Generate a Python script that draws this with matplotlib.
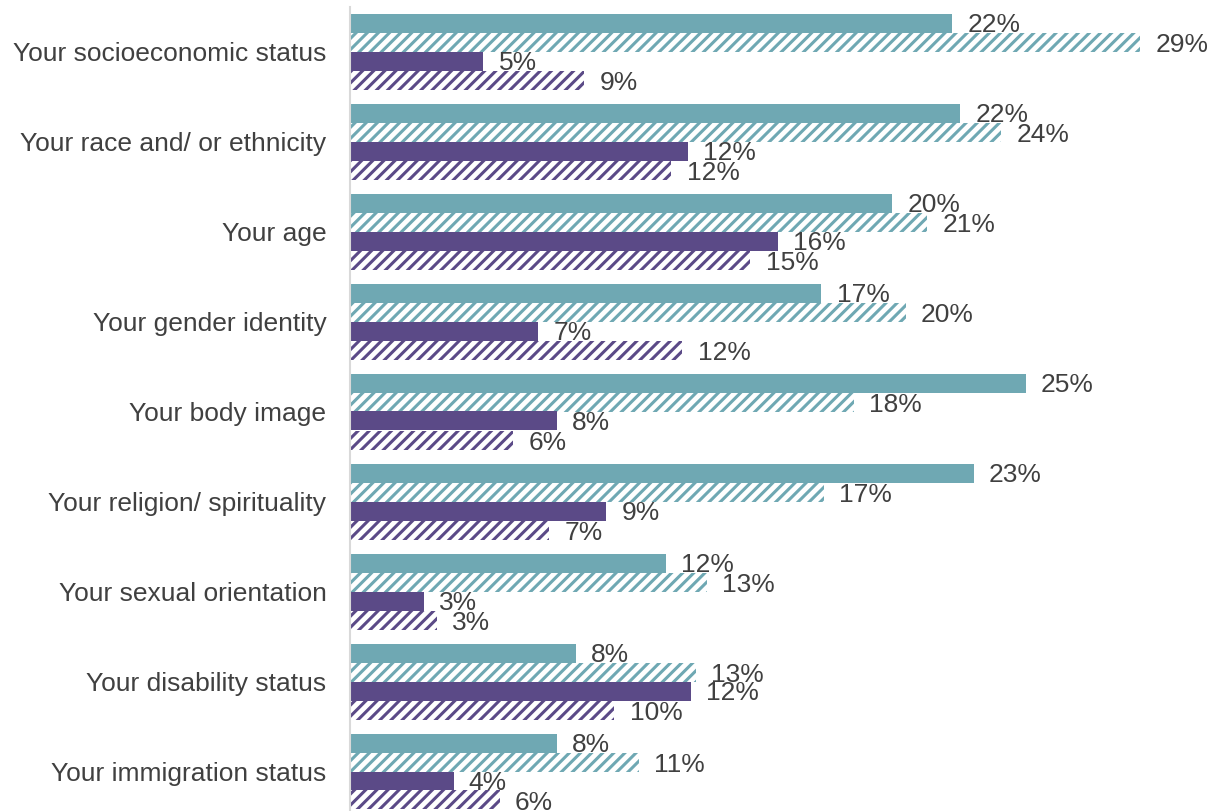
import numpy as np
import matplotlib
matplotlib.use("Agg")
import matplotlib.pyplot as plt

plt.rcParams["font.family"] = ["Liberation Sans", "DejaVu Sans"]
plt.rcParams["hatch.linewidth"] = 2.2

categories = [
    "Your socioeconomic status",
    "Your race and/ or ethnicity",
    "Your age",
    "Your gender identity",
    "Your body image",
    "Your religion/ spirituality",
    "Your sexual orientation",
    "Your disability status",
    "Your immigration status",
]

# four series per category, top to bottom (percent)
teal_solid = [22.1, 22.4, 19.9, 17.3, 24.8, 22.9, 11.6, 8.3, 7.6]
teal_hatch = [29.0, 23.9, 21.2, 20.4, 18.5, 17.4, 13.1, 12.7, 10.6]
purple_solid = [4.9, 12.4, 15.7, 6.9, 7.6, 9.4, 2.7, 12.5, 3.8]
purple_hatch = [8.6, 11.8, 14.7, 12.2, 6.0, 7.3, 3.2, 9.7, 5.5]

TEAL = "#6fa8b3"
PURPLE = "#5b4a87"
TEXT = "#404040"

fig = plt.figure(figsize=(12.12, 8.11), dpi=100)
ax = fig.add_axes([350 / 1212, 0, 1 - 350 / 1212, 804.5 / 811])

y = np.arange(len(categories))
h = 19 / 90
series = [
    (teal_solid, TEAL, None),
    (teal_hatch, TEAL, "///"),
    (purple_solid, PURPLE, None),
    (purple_hatch, PURPLE, "///"),
]

for i, (vals, color, hatch) in enumerate(series):
    pos = y + (i - 1.5) * h
    if hatch:
        ax.barh(pos, vals, height=h, color="white", edgecolor=color,
                hatch=hatch, linewidth=0)
    else:
        ax.barh(pos, vals, height=h, color=color, linewidth=0)
    for p, v in zip(pos, vals):
        ax.annotate(f"{v:.0f}%", (v, p), xytext=(11, 0), textcoords="offset points",
                    va="center_baseline", ha="left", fontsize=19, color=TEXT)

ax.set_xlim(0, 862 / 27.24)
ax.set_ylim(-0.5 + 804.5 / 90, -0.5)
ax.set_yticks(y)
ax.set_yticklabels(categories, fontsize=19, color=TEXT)
ax.tick_params(axis="y", length=0, pad=17)
ax.set_xticks([])
for s in ["top", "right", "bottom"]:
    ax.spines[s].set_visible(False)
ax.spines["left"].set_color("#d9d9d9")
ax.spines["left"].set_linewidth(1.5)

fig.savefig("out.png", dpi=100)
